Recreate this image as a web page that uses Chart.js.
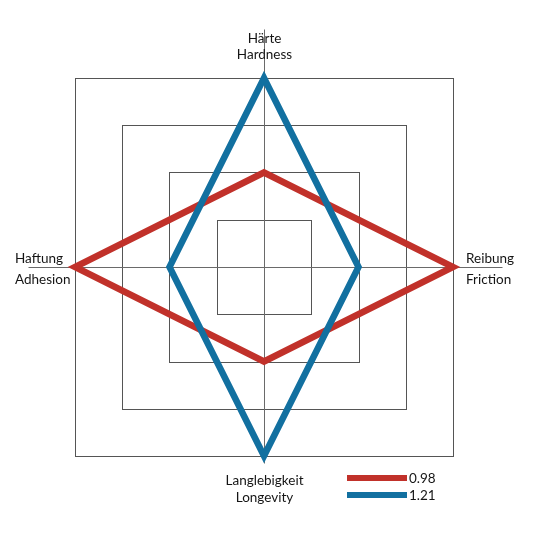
<!DOCTYPE html>
<html>
<head>
<meta charset="utf-8">
<script src="https://cdn.jsdelivr.net/npm/chart.js@4"></script>
<style>
html,body{margin:0;padding:0;background:#fff;}
#wrap{width:536px;height:536px;}
</style>
</head>
<body>
<div id="wrap"><canvas id="c" width="536" height="536"></canvas></div>
<script>
const categories = [['Härte', 'Hardness'], ['Reibung', 'Friction'], ['Langlebigkeit', 'Longevity'], ['Haftung', 'Adhesion']];
const seriesLabels = ['0.98', '1.21'];
const series098 = [2, 4, 2, 4];
const series121 = [4, 2, 4, 2];
const ringTicks = [1, 2, 3, 4];
const scaleMax = 4;

const RED = '#C1312A';
const BLUE = '#1270A0';
const FONT = '13.5px Lato, "Open Sans", sans-serif';

const decorPlugin = {
  id: 'decor',
  beforeDatasetsDraw(chart) {
    const s = chart.scales.r;
    const ctx = chart.ctx;
    const cx = s.xCenter + 0.5, cy = s.yCenter + 0.5;
    ctx.save();
    // square rings
    ctx.strokeStyle = '#555555';
    ctx.lineWidth = 1;
    ringTicks.forEach(t => {
      const d = Math.round(s.getDistanceFromCenterForValue(t));
      ctx.strokeRect(cx - d, cy - d, 2 * d, 2 * d);
    });
    // axis lines
    const R = s.getDistanceFromCenterForValue(scaleMax);
    ctx.strokeStyle = '#6a6a6a';
    ctx.beginPath();
    ctx.moveTo(cx, cy - R - 49); ctx.lineTo(cx, cy + R + 7);
    ctx.moveTo(cx - R - 47, cy); ctx.lineTo(cx + R + 49, cy);
    ctx.stroke();
    ctx.restore();
  },
  afterDraw(chart) {
    const s = chart.scales.r;
    const ctx = chart.ctx;
    const R = s.getDistanceFromCenterForValue(scaleMax);
    const cx = s.xCenter, cy = s.yCenter;
    ctx.save();
    ctx.fillStyle = '#151515';
    ctx.font = FONT;
    ctx.textBaseline = 'alphabetic';
    // top
    ctx.textAlign = 'center';
    ctx.fillText(categories[0][0], cx + 0.5, cy - R - 35);
    ctx.fillText(categories[0][1], cx + 0.5, cy - R - 19.5);
    // bottom
    ctx.fillText(categories[2][0], cx + 0.5, cy + R + 29);
    ctx.fillText(categories[2][1], cx + 0.5, cy + R + 45.5);
    // right
    ctx.textAlign = 'left';
    ctx.fillText(categories[1][0], cx + R + 13, cy - 4.5);
    ctx.fillText(categories[1][1], cx + R + 13, cy + 16.5);
    // left
    ctx.fillText(categories[3][0], cx - R - 60, cy - 4.5);
    ctx.fillText(categories[3][1], cx - R - 60, cy + 16.5);
    // legend
    const lx0 = 347, lx1 = 407, ly = [478, 495];
    chart.data.datasets.forEach((ds, i) => {
      ctx.strokeStyle = ds.borderColor;
      ctx.lineWidth = 6;
      ctx.beginPath();
      ctx.moveTo(lx0, ly[i]); ctx.lineTo(lx1, ly[i]);
      ctx.stroke();
      ctx.textAlign = 'left';
      ctx.textBaseline = 'middle';
      ctx.fillText(ds.label, lx1 + 2, ly[i] + 0.5);
    });
    ctx.restore();
  }
};

new Chart(document.getElementById('c'), {
  type: 'radar',
  data: {
    labels: categories,
    datasets: [
      { label: seriesLabels[0], data: series098, borderColor: RED, backgroundColor: 'transparent',
        borderWidth: 6.5, borderJoinStyle: 'miter', fill: false, pointRadius: 0, pointHoverRadius: 0, order: 2, clip: 30 },
      { label: seriesLabels[1], data: series121, borderColor: BLUE, backgroundColor: 'transparent',
        borderWidth: 6.5, borderJoinStyle: 'miter', fill: false, pointRadius: 0, pointHoverRadius: 0, order: 1, clip: 30 }
    ]
  },
  options: {
    responsive: false,
    animation: false,
    layout: { padding: { left: 75, right: 83, top: 78, bottom: 80 } },
    plugins: { legend: { display: false }, tooltip: { enabled: false } },
    elements: { line: { tension: 0 } },
    scales: {
      r: {
        min: 0, max: scaleMax,
        ticks: { display: false, stepSize: 1 },
        grid: { display: false },
        angleLines: { display: false },
        pointLabels: { display: false }
      }
    }
  },
  plugins: [decorPlugin]
});
</script>
</body>
</html>
